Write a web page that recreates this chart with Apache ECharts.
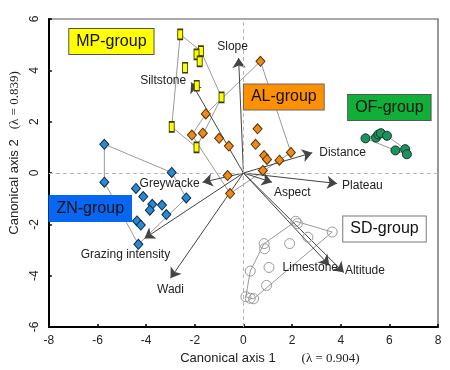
<!DOCTYPE html>
<html>
<head>
<meta charset="utf-8">
<script src="https://cdn.jsdelivr.net/npm/echarts@6/dist/echarts.min.js"></script>
<style>html,body{margin:0;padding:0;background:#fff;}#c{width:450px;height:370px;}</style>
</head>
<body>
<div id="c"></div>
<script>
// ---- data ----
const xTicks = [-8, -6, -4, -2, 0, 2, 4, 6, 8];
const yTicks = [-6, -4, -2, 0, 2, 4, 6];

const mpX = [-2.6, -1.75, -1.93, -1.8, -2.4, -1.92, -0.9, -2.95, -1.93];
const mpY = [5.4, 4.75, 4.62, 4.35, 4.1, 3.4, 2.95, 1.8, 1.0];

const alX = [0.7, -1.55, -2.12, -1.67, -1.0, -0.6, 0.58, 0.5, 0.85, 0.97, 1.48, 1.95, 0.8, -0.65, -0.55];
const alY = [4.35, 2.3, 1.48, 1.55, 1.35, 1.05, 1.72, 1.12, 0.68, 0.53, 0.5, 0.8, 0.1, -0.1, -0.8];

const ofX = [5.02, 5.45, 5.55, 5.65, 5.9, 6.25, 6.65, 6.72];
const ofY = [1.35, 1.38, 1.5, 1.55, 1.45, 0.88, 0.93, 0.73];

const znX = [-5.72, -2.95, -5.72, -4.42, -4.12, -2.35, -3.75, -3.35, -3.85, -3.17, -4.38, -4.22, -4.32];
const znY = [1.12, 0.02, -0.36, -0.6, -0.92, -0.97, -1.22, -1.25, -1.45, -1.62, -1.87, -2.03, -2.78];

const sdX = [2.15, 2.22, 3.65, 2.65, 1.9, 0.85, 0.87, 1.05, 0.28, 0.95, 0.1, 0.28, 0.42];
const sdY = [-1.88, -1.97, -2.3, -2.5, -2.75, -2.75, -2.95, -3.68, -3.82, -4.38, -4.82, -4.88, -4.9];

const varNames = ['Slope', 'Siltstone', 'Distance', 'Plateau', 'Aspect', 'Greywacke', 'Grazing intensity', 'Wadi', 'Limestone', 'Altitude'];
const varX = [-0.2, -2.15, 2.83, 3.85, 1.17, -1.68, -4.07, -3.0, 3.53, 4.13];
const varY = [4.48, 3.53, 0.79, -0.41, -0.36, -0.36, -2.55, -4.1, -3.6, -3.88];

const groupNames = ['MP-group', 'AL-group', 'OF-group', 'ZN-group', 'SD-group'];

// ---- layout / style (not data) ----
const groupLayout = {
  'MP-group': {at: [-5.43, 5.12], bg: '#ffff00', border: '#555'},
  'AL-group': {at: [1.66, 2.96], bg: '#ff9000', border: '#666'},
  'OF-group': {at: [6.0, 2.55], bg: '#10b038', border: '#555'},
  'ZN-group': {at: [-6.3, -1.38], bg: '#0766f2', border: '#0766f2'},
  'SD-group': {at: [5.8, -2.18], bg: '#ffffff', border: '#777'}
};
const varLabelPos = {
  'Slope': {position: 'top', offset: [-6, 0]},
  'Siltstone': {position: 'left', offset: [0, -2]},
  'Distance': {position: 'right', offset: [2, 0]},
  'Plateau': {position: 'right', offset: [0, 2]},
  'Aspect': {position: 'right', offset: [-3, 10]},
  'Greywacke': {position: 'left', offset: [2, 1]},
  'Grazing intensity': {position: 'bottom', offset: [-19, 5]},
  'Wadi': {position: 'bottom', offset: [0, 0]},
  'Limestone': {position: 'bottom', offset: [-19, -9]},
  'Altitude': {position: 'right', offset: [-4, -2]}
};

function zip(xs, ys) { return xs.map((x, i) => [x, ys[i]]); }
function hull(pts) {
  const p = pts.slice().sort((a, b) => a[0] - b[0] || a[1] - b[1]);
  const cross = (o, a, b) => (a[0] - o[0]) * (b[1] - o[1]) - (a[1] - o[1]) * (b[0] - o[0]);
  const lo = [], up = [];
  for (const q of p) { while (lo.length >= 2 && cross(lo[lo.length - 2], lo[lo.length - 1], q) <= 0) lo.pop(); lo.push(q); }
  for (let i = p.length - 1; i >= 0; i--) { const q = p[i]; while (up.length >= 2 && cross(up[up.length - 2], up[up.length - 1], q) <= 0) up.pop(); up.push(q); }
  up.pop(); lo.pop();
  const h = lo.concat(up); h.push(h[0]); return h;
}

const mp = zip(mpX, mpY), al = zip(alX, alY), of = zip(ofX, ofY), zn = zip(znX, znY), sd = zip(sdX, sdY);

const hullSeries = [mp, al, of, zn, sd].map(g => ({
  type: 'line', data: hull(g), symbol: 'none', silent: true, z: 2,
  lineStyle: {color: '#9a9a9a', width: 1}
}));

const font = 'Liberation Sans, Arial, sans-serif';

const chart = echarts.init(document.getElementById('c'), null, {renderer: 'canvas'});
chart.setOption({
  animation: false,
  backgroundColor: '#fff',
  grid: {left: 42, right: 12, top: 19, bottom: 43, show: true, borderColor: '#555', borderWidth: 1.2},
  xAxis: {
    type: 'value', min: xTicks[0], max: xTicks[xTicks.length - 1], interval: 2,
    axisLine: {onZero: false, lineStyle: {color: '#000', width: 2}},
    axisTick: {inside: true, length: 3, lineStyle: {color: '#000', width: 1.5}},
    splitLine: {show: false},
    axisLabel: {color: '#222', fontSize: 12, fontFamily: font, margin: 8},
    name: '{a|Canonical axis 1}{b|(λ = 0.904)}', nameLocation: 'middle', nameGap: 24,
    nameTextStyle: {padding: [0, 0, 0, 53], rich: {
      a: {fontSize: 13, fontFamily: font, color: '#222'},
      b: {fontSize: 13, fontFamily: 'Liberation Serif, Times New Roman, serif', color: '#222', padding: [0, 0, 0, 26]}
    }}
  },
  yAxis: {
    type: 'value', min: yTicks[0], max: yTicks[yTicks.length - 1], interval: 2,
    axisLine: {onZero: false, lineStyle: {color: '#000', width: 2}},
    axisTick: {inside: true, length: 3, lineStyle: {color: '#000', width: 1.5}},
    splitLine: {show: false},
    axisLabel: {color: '#222', fontSize: 12, fontFamily: font, rotate: 90, margin: 8},
    name: '{a|Canonical axis 2}{b|(λ = 0.839)}', nameLocation: 'middle', nameGap: 24,
    nameTextStyle: {padding: [0, 0, 0, 40], rich: {
      a: {fontSize: 13, fontFamily: font, color: '#222'},
      b: {fontSize: 13, fontFamily: 'Liberation Serif, Times New Roman, serif', color: '#222', padding: [0, 0, 0, 10]}
    }}
  },
  series: [
    {
      type: 'line', data: [], silent: true,
      markLine: {
        silent: true, symbol: 'none', label: {show: false},
        lineStyle: {color: '#b8b8b8', type: [4, 3], width: 1},
        data: [{xAxis: 0}, {yAxis: 0}]
      }
    },
    ...hullSeries,
    {
      type: 'lines', coordinateSystem: 'cartesian2d', z: 3,
      symbol: ['none', 'arrow'], symbolSize: [7, 10],
      lineStyle: {color: '#444', width: 1, opacity: 1},
      data: varX.map((x, i) => ({coords: [[0, 0], [x, varY[i]]]}))
    },
    {
      type: 'scatter', symbolSize: 0, z: 6, silent: true,
      itemStyle: {opacity: 1},
      data: varNames.map((n, i) => ({
        value: [varX[i], varY[i]], name: n,
        label: {show: true, formatter: n, position: varLabelPos[n].position, offset: varLabelPos[n].offset,
          fontSize: 12, fontFamily: font, color: '#222'}
      }))
    },
    {
      type: 'scatter', data: mp, symbol: 'rect', symbolSize: [5, 10], z: 5,
      itemStyle: {color: '#ffff00', borderColor: '#3a3a00', borderWidth: 1.2, opacity: 1}
    },
    {
      type: 'scatter', data: al, symbol: 'diamond', symbolSize: [9, 10], z: 5,
      itemStyle: {color: '#ee8a1a', borderColor: '#5a3000', borderWidth: 1, opacity: 1}
    },
    {
      type: 'scatter', data: of, symbol: 'circle', symbolSize: 9, z: 5,
      itemStyle: {color: '#1e9160', borderColor: '#0a3a20', borderWidth: 1, opacity: 1}
    },
    {
      type: 'scatter', data: zn, symbol: 'diamond', symbolSize: [9, 10], z: 5,
      itemStyle: {color: '#2a8ad0', borderColor: '#0a2a50', borderWidth: 1, opacity: 1}
    },
    {
      type: 'scatter', data: sd, symbol: 'circle', symbolSize: 10, z: 5,
      itemStyle: {color: 'rgba(255,255,255,0)', borderColor: '#9a9a9a', borderWidth: 1, opacity: 1}
    },
    {
      type: 'scatter', symbolSize: 0, z: 8, silent: true,
      itemStyle: {opacity: 1},
      data: groupNames.map(n => ({
        value: groupLayout[n].at, name: n,
        label: {show: true, position: 'inside', formatter: n, fontSize: 16, fontFamily: font, color: '#111',
          backgroundColor: groupLayout[n].bg, borderColor: groupLayout[n].border, borderWidth: 1,
          padding: [5, 7, 4, 7]}
      }))
    }
  ]
});
</script>
</body>
</html>
